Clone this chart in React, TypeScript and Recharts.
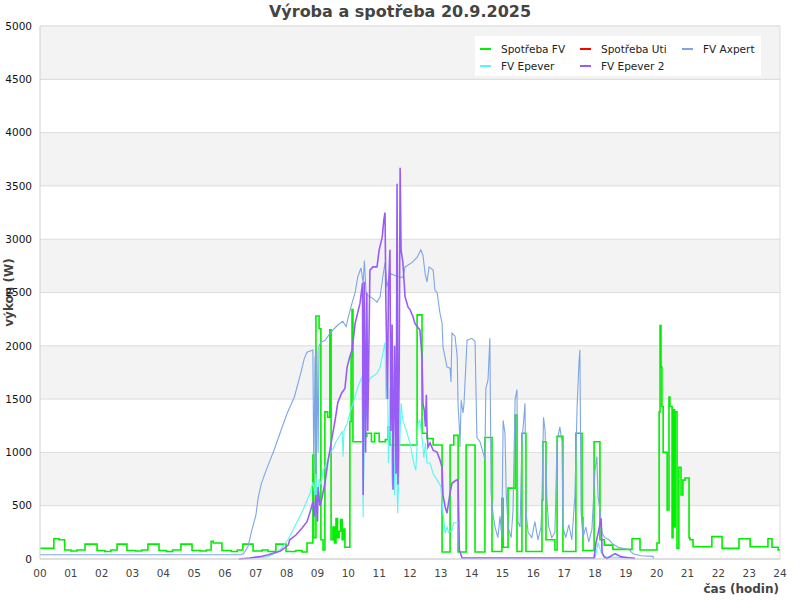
import { LineChart, Line, XAxis, YAxis, CartesianGrid, Legend, ReferenceLine, ReferenceArea, Label } from "recharts";

// hour ticks (x) and power ticks (y)
const hourTicks = [0, 1, 2, 3, 4, 5, 6, 7, 8, 9, 10, 11, 12, 13, 14, 15, 16, 17, 18, 19, 20, 21, 22, 23, 24];
const powerTicks = [0, 500, 1000, 1500, 2000, 2500, 3000, 3500, 4000, 4500, 5000];

const seriesNames = ["Spotřeba FV", "Spotřeba Uti", "FV Axpert", "FV Epever", "FV Epever 2"];
const seriesColors = ["#00ee00", "#ff0000", "#7ea6e6", "#5cf6f2", "#9a5cf7"];

// [hour, W] samples
const spotrebaFV: [number, number][] = [
  [0, 100], [0.45, 190], [0.62, 180], [0.8, 85], [1.0, 75], [1.2, 85], [1.46, 140], [1.85, 80], [2.1, 70], [2.3, 85],
  [2.5, 140], [2.82, 80], [3.1, 75], [3.3, 85], [3.5, 140], [3.86, 80], [4.1, 70], [4.3, 85], [4.57, 140], [4.93, 80],
  [5.2, 75], [5.4, 85], [5.55, 165], [5.62, 150], [5.9, 80], [6.2, 70], [6.4, 85], [6.58, 140], [6.91, 75], [7.2, 85],
  [7.4, 70], [7.65, 140], [7.98, 70], [8.3, 80], [8.5, 65], [8.66, 150], [8.85, 975], [8.88, 200], [8.95, 2280],
  [9.05, 2160], [9.11, 180], [9.18, 85], [9.24, 1380], [9.33, 1330], [9.4, 2150], [9.44, 180], [9.5, 300], [9.55, 150],
  [9.6, 380], [9.65, 200], [9.7, 260], [9.75, 370], [9.8, 180], [9.85, 280], [9.89, 110], [10.05, 1290], [10.09, 1900],
  [10.12, 2340], [10.15, 1100], [10.48, 1150], [10.6, 1180], [10.75, 1100], [10.85, 1180], [11.0, 1100], [11.2, 1120],
  [11.29, 1240], [11.35, 1070], [12.23, 2290], [12.39, 1180], [12.55, 1130], [12.75, 1070], [13.04, 65], [13.3, 1070],
  [13.42, 1160], [13.56, 65], [13.82, 1070], [14.11, 65], [14.43, 1140], [14.66, 70], [14.98, 570], [15.02, 110],
  [15.18, 665], [15.41, 1350], [15.47, 70], [15.63, 1180], [15.76, 70], [16.28, 550], [16.31, 1100], [16.41, 180],
  [16.7, 85], [16.77, 1150], [16.96, 70], [17.38, 1180], [17.58, 390], [17.61, 80], [17.97, 1100], [18.16, 180],
  [18.3, 130], [18.58, 90], [19.2, 190], [19.46, 85], [20.01, 150], [20.08, 1380], [20.11, 2190], [20.14, 1800],
  [20.17, 1430], [20.21, 1000], [20.34, 460], [20.4, 1520], [20.43, 1430], [20.5, 200], [20.53, 1400], [20.58, 300],
  [20.6, 1380], [20.66, 100], [20.72, 860], [20.79, 600], [20.85, 740], [20.92, 760], [21.05, 200], [21.08, 180],
  [21.18, 115], [21.79, 210], [22.12, 100], [22.67, 190], [23.03, 115], [23.61, 190], [23.74, 110], [23.94, 85], [24, 85],
];

// nothing visible for this one
const spotrebaUti: [number, number | null][] = [[0, null], [24, null]];

const fvAxpert: [number, number][] = [
  [0, 40], [6.5, 40], [6.6, 50], [6.75, 120], [6.87, 270], [7.0, 410], [7.08, 580], [7.18, 710], [7.37, 860],
  [7.59, 1020], [7.82, 1210], [8.02, 1370], [8.25, 1520], [8.48, 1770], [8.57, 1880], [8.66, 1940], [8.85, 1960],
  [8.88, 800], [8.92, 1900], [8.95, 500], [8.98, 1950], [9.02, 1000], [9.05, 2000], [9.11, 2035], [9.24, 2050],
  [9.44, 2130], [9.66, 2195], [9.82, 2230], [9.93, 2180], [9.99, 2260], [10.12, 2400], [10.22, 2500], [10.31, 2650],
  [10.41, 2730], [10.48, 2590], [10.52, 2800], [10.58, 2480], [10.77, 2450], [10.93, 2410], [11.03, 2460], [11.12, 2650],
  [11.19, 2780], [11.25, 2550], [11.35, 2680], [11.58, 2650], [11.77, 2640], [11.84, 2740], [12.06, 2780], [12.23, 2830],
  [12.35, 2900], [12.42, 2850], [12.49, 2680], [12.55, 2600], [12.62, 2740], [12.75, 2710], [12.81, 2520], [12.88, 2500],
  [12.97, 2310], [13.04, 2210], [13.07, 1990], [13.2, 1800], [13.3, 1790], [13.33, 1660], [13.36, 2120], [13.46, 2090],
  [13.53, 1900], [13.56, 1430], [13.6, 1240], [13.62, 1050], [13.66, 1490], [13.72, 1370], [13.75, 1450], [13.85, 2050],
  [14.0, 2070], [14.11, 2040], [14.17, 1140], [14.27, 1100], [14.37, 1000], [14.43, 930], [14.46, 1600], [14.53, 1680],
  [14.59, 2070], [14.63, 620], [14.7, 400], [14.76, 300], [14.85, 200], [14.92, 400], [14.98, 200], [15.02, 1300],
  [15.08, 1180], [15.12, 620], [15.18, 300], [15.28, 200], [15.34, 450], [15.41, 1500], [15.47, 1590], [15.5, 350],
  [15.57, 300], [15.63, 1090], [15.73, 1460], [15.76, 450], [15.83, 250], [15.95, 200], [16.05, 350], [16.15, 180],
  [16.25, 300], [16.28, 550], [16.33, 1330], [16.38, 1210], [16.44, 570], [16.5, 300], [16.6, 200], [16.7, 250],
  [16.77, 1100], [16.86, 1240], [16.93, 1100], [16.96, 300], [17.05, 200], [17.15, 320], [17.25, 180], [17.35, 600],
  [17.42, 1430], [17.48, 1840], [17.51, 1960], [17.55, 430], [17.61, 200], [17.7, 300], [17.8, 160], [17.9, 280],
  [18.0, 830], [18.06, 960], [18.1, 580], [18.16, 460], [18.23, 240], [18.32, 200], [18.45, 180], [18.58, 140],
  [18.75, 110], [18.9, 100], [19.1, 90], [19.23, 50], [19.5, 30], [19.88, 25], [19.9, 0],
];

const fvEpever: [number, number][] = [
  [6.7, 0], [6.91, 10], [7.37, 20], [7.7, 65], [7.88, 115], [8.04, 180], [8.2, 270], [8.37, 365], [8.53, 460],
  [8.66, 550], [8.76, 620], [8.85, 720], [8.92, 600], [8.95, 800], [9.0, 500], [9.05, 750], [9.11, 700], [9.18, 830],
  [9.31, 900], [9.41, 1000], [9.5, 1030], [9.6, 1100], [9.73, 1160], [9.8, 1200], [9.83, 960], [9.86, 1210],
  [9.96, 1270], [10.05, 1370], [10.15, 1460], [10.31, 1610], [10.44, 1710], [10.48, 390], [10.54, 1650], [10.61, 1300],
  [10.65, 1650], [10.7, 1690], [10.77, 1710], [10.93, 1740], [11.03, 1800], [11.12, 1930], [11.19, 2030], [11.22, 1500],
  [11.27, 1800], [11.3, 900], [11.35, 1600], [11.42, 700], [11.45, 1520], [11.5, 600], [11.55, 1200], [11.6, 430],
  [11.65, 900], [11.71, 1460], [11.77, 1300], [11.84, 1240], [12.0, 1090], [12.1, 930], [12.19, 830], [12.26, 1270],
  [12.32, 1300], [12.39, 1140], [12.45, 950], [12.5, 1090], [12.55, 900], [12.65, 900], [12.75, 800], [12.88, 740],
  [13.0, 680], [13.07, 430], [13.14, 240], [13.2, 300], [13.25, 250], [13.36, 270], [13.42, 340], [13.56, 340],
  [13.6, 85], [13.69, 10], [18.0, 10], [18.1, 150], [18.2, 60], [18.3, 20], [19.3, 10],
];

const fvEpever2: [number, number][] = [
  [6.45, 0], [6.8, 10], [7.2, 25], [7.4, 40], [7.8, 75], [8.05, 130], [8.1, 180], [8.3, 225], [8.5, 290], [8.66, 350],
  [8.76, 440], [8.85, 535], [8.9, 400], [8.95, 600], [9.0, 350], [9.02, 675], [9.08, 500], [9.15, 580], [9.24, 710],
  [9.33, 900], [9.46, 1120], [9.57, 1300], [9.66, 1470], [9.79, 1560], [9.89, 1600], [9.96, 1800], [10.05, 1900],
  [10.12, 1960], [10.22, 2210], [10.38, 2400], [10.46, 2590], [10.48, 600], [10.52, 2600], [10.56, 1000], [10.6, 2500],
  [10.63, 1200], [10.7, 2710], [10.8, 2740], [10.93, 2740], [11.0, 2900], [11.1, 3020], [11.15, 3180], [11.19, 3250],
  [11.22, 2360], [11.27, 1500], [11.3, 2500], [11.35, 2900], [11.38, 1200], [11.42, 2200], [11.45, 650], [11.5, 2000],
  [11.55, 800], [11.58, 3520], [11.61, 700], [11.65, 1800], [11.68, 3670], [11.71, 2900], [11.77, 2780], [11.84, 2460],
  [11.94, 2360], [12.0, 2340], [12.1, 2270], [12.16, 2210], [12.23, 2180], [12.32, 2150], [12.39, 1900], [12.42, 1460],
  [12.46, 1400], [12.5, 1240], [12.53, 1540], [12.55, 1240], [12.58, 1050], [12.65, 1090], [12.75, 1020], [12.88, 1000],
  [12.97, 930], [13.04, 860], [13.07, 600], [13.14, 490], [13.2, 430], [13.3, 620], [13.36, 710], [13.5, 740],
  [13.56, 740], [13.6, 85], [13.69, 10], [17.97, 10], [18.03, 150], [18.1, 240], [18.2, 380], [18.23, 60], [18.3, 20],
  [18.39, 5], [18.65, 50], [18.75, 35], [18.85, 20], [19.3, 5],
];

const toPoints = (series: [number, number | null][], key: string) =>
  series.map(([t, w]) => ({ t, [key]: w }));

const pad2 = (h: number) => String(h).padStart(2, "0");

function LegendBox() {
  return (
    <div
      style={{
        background: "#fff",
        width: 286,
        height: 40,
        boxSizing: "border-box",
        padding: "4px 0 0 5px",
        display: "grid",
        gridTemplateColumns: "100px 102px 78px",
        gridAutoRows: "17px",
        fontSize: 10.5,
        color: "#222",
      }}
    >
      {seriesNames.map((name, i) => (
        <div key={name} style={{ display: "flex", alignItems: "center", whiteSpace: "nowrap" }}>
          <span style={{ display: "inline-block", width: 11, height: 2, background: seriesColors[i], marginRight: 10 }} />
          <span>{name}</span>
        </div>
      ))}
    </div>
  );
}

function YTitle(props: any) {
  const vb = props.viewBox || { x: 0, y: 26, width: 40, height: 533 };
  const cx = vb.x + 9;
  const cy = vb.y + vb.height / 2;
  return (
    <text x={cx} y={cy} transform={`rotate(-90, ${cx}, ${cy})`} textAnchor="middle" dominantBaseline="central"
      fontSize={12} fontWeight="bold" fill="#444">
      výkon (W)
    </text>
  );
}

function XTitle(props: any) {
  const vb = props.viewBox || { x: 40, y: 559, width: 740, height: 41 };
  return (
    <text x={vb.x + vb.width - 1} y={vb.y + vb.height - 7} textAnchor="end" fontSize={12} fontWeight="bold" fill="#444">
      čas (hodin)
    </text>
  );
}

export default function App() {
  return (
    <div style={{ position: "absolute", left: 0, top: 0, width: 800, height: 600, background: "#fff", fontFamily: "'DejaVu Sans', sans-serif" }}>
      <LineChart width={800} height={600} margin={{ top: 26, right: 20, bottom: 0, left: 0 }}>
        <CartesianGrid vertical={false} stroke="#dddddd" horizontalFill={["#f3f3f3", "#ffffff"]} fillOpacity={1} />
        {/* top band is grey too */}
        <ReferenceArea y1={4500} y2={5000} fill="#f3f3f3" fillOpacity={1} stroke="none" />
        <ReferenceLine y={4500} stroke="#dddddd" />
        <ReferenceLine y={5000} stroke="#dddddd" />
        <ReferenceLine x={24} stroke="#dddddd" />
        <XAxis
          dataKey="t"
          type="number"
          domain={[0, 24]}
          ticks={hourTicks}
          tickFormatter={pad2}
          interval={0}
          height={41}
          tickLine={false}
          tickMargin={5}
          axisLine={{ stroke: "#d0d0d0" }}
          tick={{ fontSize: 10.5, fill: "#444" }}
          allowDuplicatedCategory={false}
        >
          <Label content={XTitle} />
        </XAxis>
        <YAxis
          type="number"
          domain={[0, 5000]}
          ticks={powerTicks}
          interval={0}
          width={40}
          tickLine={false}
          axisLine={{ stroke: "#d0d0d0" }}
          tick={{ fontSize: 10.5, fill: "#111" }}
        >
          <Label content={YTitle} />
        </YAxis>
        <Legend
          layout="horizontal"
          verticalAlign="middle"
          align="center"
          wrapperStyle={{ top: 36, left: 475, width: 286, height: 40 }}
          content={() => <LegendBox />}
        />
        <Line data={toPoints(spotrebaFV, "fv")} dataKey="fv" name={seriesNames[0]} type="stepAfter" stroke={seriesColors[0]}
          strokeWidth={1.6} dot={false} isAnimationActive={false} />
        <Line data={toPoints(spotrebaUti, "uti")} dataKey="uti" name={seriesNames[1]} type="linear" stroke={seriesColors[1]}
          strokeWidth={1.6} dot={false} isAnimationActive={false} />
        <Line data={toPoints(fvAxpert, "axpert")} dataKey="axpert" name={seriesNames[2]} type="linear" stroke={seriesColors[2]}
          strokeWidth={1.1} dot={false} isAnimationActive={false} />
        <Line data={toPoints(fvEpever, "epever")} dataKey="epever" name={seriesNames[3]} type="linear" stroke={seriesColors[3]}
          strokeWidth={1.1} dot={false} isAnimationActive={false} />
        <Line data={toPoints(fvEpever2, "epever2")} dataKey="epever2" name={seriesNames[4]} type="linear" stroke={seriesColors[4]}
          strokeWidth={1.6} dot={false} isAnimationActive={false} />
      </LineChart>
      <div style={{ position: "absolute", top: 3, left: 0, width: 800, textAlign: "center", fontSize: 16, lineHeight: "18px", fontWeight: "bold", color: "#444" }}>
        Výroba a spotřeba 20.9.2025
      </div>
    </div>
  );
}
